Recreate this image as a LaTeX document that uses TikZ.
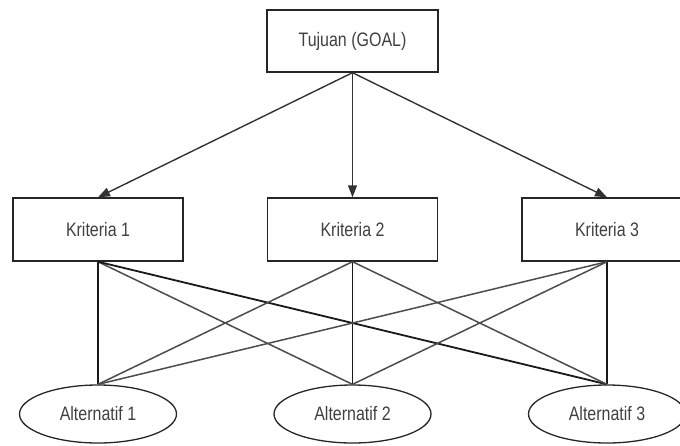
\documentclass[tikz,border=0pt]{standalone}
\usepackage{fontspec}
\setmainfont[FakeStretch=0.82]{Liberation Sans}
\usetikzlibrary{arrows.meta,shapes.geometric}
\begin{document}
\begin{tikzpicture}[x=1pt,y=-1pt,
  box/.style={draw=black!85,line width=1.4pt,minimum width=170pt,minimum height=63pt,inner sep=0pt,text=black!75,font=\fontsize{19.5}{22}\selectfont},
  alt/.style={ellipse,draw=black!85,line width=1.3pt,minimum width=157pt,minimum height=58pt,inner sep=0pt,text=black!75,font=\fontsize{19.5}{22}\selectfont},
  arr/.style={draw=black!80,line width=1.4pt,-{Triangle[length=12pt,width=9pt]}},
  link/.style={draw=black!70,line width=1.5pt},
  vlink/.style={draw=black!90,line width=1.4pt},
  dlink/.style={draw=black!90,line width=1.8pt}]
\useasboundingbox (0,0) rectangle (680,445);
\clip (0,0) rectangle (680,445);
\node[box,minimum width=171pt,minimum height=62pt] (g) at (352.5,41) {Tujuan (GOAL)};
\node[box] (k1) at (98,229.5) {Kriteria 1};
\node[box] (k2) at (352.5,229.5) {Kriteria 2};
\node[box] (k3) at (607,229.5) {Kriteria 3};
\node[alt] (a1) at (98,414) {Alternatif 1};
\node[alt] (a2) at (352.5,414) {Alternatif 2};
\node[alt] (a3) at (607,414) {Alternatif 3};
\draw[arr] (g.south) -- (k1.north);
\draw[arr] (g.south) -- (k2.north);
\draw[arr] (g.south) -- (k3.north);
\draw[vlink] (k1.south) -- (a1.north);
\draw[vlink] (k2.south) -- (a2.north);
\draw[vlink] (k3.south) -- (a3.north);
\draw[link] (k1.south) -- (a2.north);
\draw[dlink] (k1.south) -- (a3.north);
\draw[link] (k2.south) -- (a1.north);
\draw[link] (k2.south) -- (a3.north);
\draw[link] (k3.south) -- (a1.north);
\draw[link] (k3.south) -- (a2.north);
\end{tikzpicture}
\end{document}
